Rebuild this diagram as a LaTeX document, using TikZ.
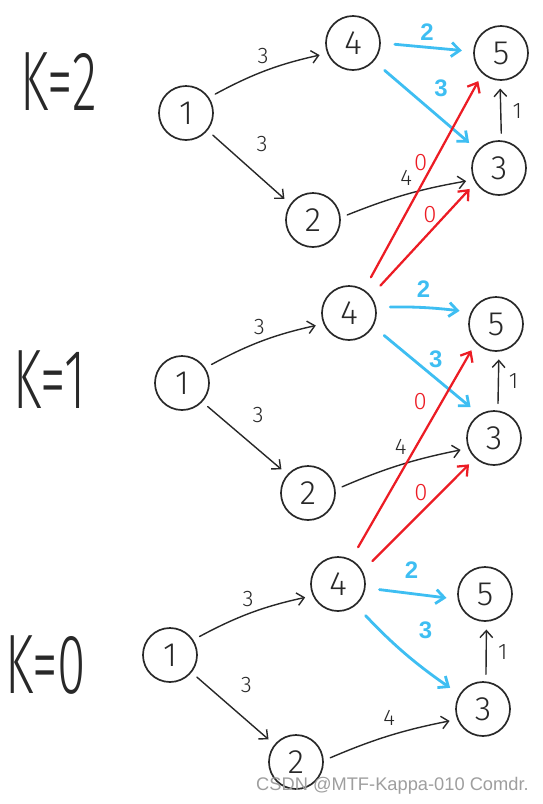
\documentclass[tikz,border=0pt]{standalone}
\usepackage{fontspec}
\setmainfont{Liberation Sans}
\IfFontExistsTF{Fira Sans Light}{\newfontfamily\handfont{Fira Sans Light}}{%
  \IfFontExistsTF{Lato Light}{\newfontfamily\handfont{Lato Light}}{%
    \IfFontExistsTF{Poppins Light}{\newfontfamily\handfont{Poppins Light}}{%
      \IfFontExistsTF{DejaVu Sans ExtraLight}{\newfontfamily\handfont{DejaVu Sans ExtraLight}}{%
        \newfontfamily\handfont{Liberation Sans}}}}}
\newfontfamily\markfont{Liberation Sans}
\usepackage{graphicx}
\usetikzlibrary{arrows.meta}
\definecolor{pengray}{RGB}{40,40,40}
\definecolor{penblue}{RGB}{62,190,242}
\definecolor{penred}{RGB}{236,28,36}
\newcommand{\klabel}[1]{\scalebox{0.61}[1]{\handfont\fontsize{60}{60}\selectfont #1}}

\begin{document}
\begin{tikzpicture}[x=0.025cm, y=-0.025cm,
  vertex/.style={draw=pengray, circle, minimum size=1.35cm, inner sep=0pt,
    line width=1.2pt, font=\handfont\fontsize{24}{24}\selectfont, text=pengray},
  arr/.style={-{Straight Barb[length=5pt, width=9pt]}, line width=1pt,
    line cap=round, pengray, shorten <=5pt, shorten >=5.5pt},
  bluearr/.style={-{Straight Barb[length=6pt, width=10pt]}, line width=2pt,
    line cap=round, penblue, shorten <=10pt, shorten >=8pt},
  redarr/.style={-{Straight Barb[length=6pt, width=10pt]}, line width=1.6pt,
    line cap=round, penred, shorten <=10pt, shorten >=6pt},
  wlabel/.style={font=\handfont\fontsize{16}{16}\selectfont, text=pengray, inner sep=1pt},
  bluelabel/.style={font=\bfseries\fontsize{17}{17}\selectfont, text=penblue, inner sep=1pt},
  redlabel/.style={font=\handfont\fontsize{17}{17}\selectfont, text=penred, inner sep=1pt}
]
\useasboundingbox (0,0) rectangle (542,804);

% K = 2
\node[text=pengray] (k2) at (59,82) {\klabel{K=2}};
\node[vertex] (a1) at (186,113) {1};
\node[vertex] (a4) at (353,43) {4};
\node[vertex] (a5) at (501,53) {5};
\node[vertex] (a3) at (499,168) {3};
\node[vertex] (a2) at (313,220) {2};
\draw[arr] (a1.34) to[bend left=8] node[wlabel, pos=0.47, above=4pt] {3} (a4.202);
\draw[arr] (a1.-39) -- node[wlabel, pos=0.45, above right=7pt] {3} (a2.145);
\draw[arr] (a2.5) to[bend left=6] node[wlabel, midway, above=5pt] {4} (a3.205);
\draw[arr] (a3.85) -- node[wlabel, midway, right=7pt] {1} (a5.268);
\draw[bluearr] (a4.0) -- node[bluelabel, midway, above=3pt] {2} (a5.177);
\draw[bluearr] (a4.-41) -- node[bluelabel, midway, above right=4pt] {3} (a3.140);

% K = 1
\node[text=pengray] (k1) at (50,380) {\klabel{K=1}};
\node[vertex] (b1) at (182,383) {1};
\node[vertex] (b4) at (349,313) {4};
\node[vertex] (b5) at (496,324) {5};
\node[vertex] (b3) at (494,438) {3};
\node[vertex] (b2) at (308,493) {2};
\draw[arr] (b1.33) to[bend left=8] node[wlabel, pos=0.47, above=4pt] {3} (b4.203);
\draw[arr] (b1.-43) -- node[wlabel, pos=0.45, above right=7pt] {3} (b2.138);
\draw[arr] (b2.7) to[bend left=6] node[wlabel, midway, above=6pt] {4} (b3.202);
\draw[arr] (b3.82) -- node[wlabel, midway, right=6pt] {1} (b5.276);
\draw[bluearr] (b4.12) to[bend left=4] node[bluelabel, midway, above=5pt] {2} (b5.155);
\draw[bluearr] (b4.-29) -- node[bluelabel, pos=0.5, above right=0pt] {3} (b3.122);

% K = 1 -> K = 2 (red)
\draw[redarr] (b4.57) -- node[redlabel, pos=0.59, left=3pt] {0} (a5.228);
\draw[redarr] (b4.38) -- node[redlabel, pos=0.72, left=5pt] {0} (a3.212);

% K = 0
\node[text=pengray] (k0) at (46,665) {\klabel{K=0}};
\node[vertex] (c1) at (170,655) {1};
\node[vertex] (c4) at (338,584) {4};
\node[vertex] (c5) at (485,594) {5};
\node[vertex] (c3) at (483,709) {3};
\node[vertex] (c2) at (296,762) {2};
\draw[arr] (c1.33) to[bend left=8] node[wlabel, pos=0.47, above=4pt] {3} (c4.205);
\draw[arr] (c1.-39) -- node[wlabel, pos=0.45, above right=7pt] {3} (c2.141);
\draw[arr] (c2.3) to[bend left=6] node[wlabel, midway, above=6pt] {4} (c3.202);
\draw[arr] (c3.84) -- node[wlabel, midway, right=7pt] {1} (c5.273);
\draw[bluearr] (c4.-8) -- node[bluelabel, midway, above=9pt] {2} (c5.191);
\draw[bluearr] (c4.-50) to[bend right=6] node[bluelabel, midway, above right=8pt] {3} (c3.148);

% K = 0 -> K = 1 (red)
\draw[redarr] (c4.62) -- node[redlabel, pos=0.73, left=9pt] {0} (b5.223);
\draw[redarr] (c4.28) -- node[redlabel, pos=0.7, left=8pt] {0} (b3.227);

% watermark
\node[anchor=east, text=black!38, font=\markfont\fontsize{13}{13}\selectfont, inner sep=0pt]
  (mark) at (529,786) {CSDN @MTF-Kappa-010 Comdr.};

\end{tikzpicture}
\end{document}
